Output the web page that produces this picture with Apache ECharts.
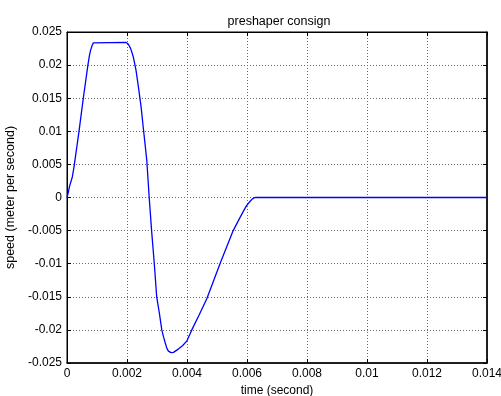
<!DOCTYPE html>
<html><head><meta charset="utf-8">
<script src="https://cdn.jsdelivr.net/npm/echarts@6/dist/echarts.min.js"></script>
<style>html,body{margin:0;padding:0;background:#fff}#c{width:501px;height:396px}</style>
</head><body><div id="c"></div>
<script>
const titleText = 'preshaper consign';
const xName = 'time (second)';
const yName = 'speed (meter per second)';
const times = [0, 0.00004, 0.00008, 0.000177, 0.000233, 0.0004, 0.000544, 0.0007, 0.00075, 0.00079, 0.00084, 0.00088, 0.00091,
  0.00196, 0.00200, 0.00204, 0.00208, 0.00212, 0.00221, 0.0023, 0.00238, 0.00247, 0.00254, 0.00266, 0.00274,
  0.00282, 0.00291, 0.00299, 0.00308, 0.00316, 0.00322, 0.00327, 0.00333, 0.00338, 0.00343, 0.00347, 0.00355, 0.00371, 0.00385, 0.00399, 0.00416,
  0.00440, 0.00466, 0.0051, 0.00554, 0.00577, 0.00590, 0.00599, 0.0061, 0.00618, 0.00627, 0.014];
const speeds = [0, 0.0007, 0.0016, 0.0031, 0.0046, 0.01, 0.015, 0.0201, 0.0215, 0.0223, 0.0230, 0.02335, 0.02344,
  0.02344, 0.02338, 0.02318, 0.0229, 0.02253, 0.02126, 0.01924, 0.01671, 0.01368, 0.01065, 0.0056, 0,
  -0.005, -0.01, -0.015, -0.0175, -0.02, -0.0211, -0.0219, -0.0228, -0.0232, -0.02340, -0.02344, -0.0234, -0.0229, -0.0224, -0.0217, -0.02,
  -0.0178, -0.0153, -0.01, -0.005, -0.003, -0.0019, -0.0012, -0.0006, -0.0002, 0, 0];
const xTicks = ['0','0.002','0.004','0.006','0.008','0.01','0.012','0.014'];
const yTicks = ['-0.025','-0.02','-0.015','-0.01','-0.005','0','0.005','0.01','0.015','0.02','0.025'];

const font = 'Liberation Sans, Arial, sans-serif';
const data = times.map((t, i) => [t, speeds[i]]);
const chart = echarts.init(document.getElementById('c'), null, {renderer: 'canvas'});
const grid = {left: 67, top: 32, width: 420, height: 331, show: true, borderColor: '#000', borderWidth: 1,
  backgroundColor: '#fff', containLabel: false, outerBoundsMode: 'none'};
const split = {show: true, lineStyle: {color: '#666', type: [1, 2], width: 1}};
const tick = {show: true, inside: true, length: 4, lineStyle: {color: '#000'}};
const fmtX = v => xTicks[Math.round(v / 0.002)];
const fmtY = v => yTicks[Math.round((v + 0.025) / 0.005)];
chart.setOption({
  animation: false,
  title: {text: titleText, left: 274, top: 10, textAlign: 'center',
    textStyle: {fontFamily: font, fontSize: 12.5, fontWeight: 'normal', color: '#000'}},
  grid: grid,
  xAxis: [{
    type: 'value', min: 0, max: 0.014, interval: 0.002, position: 'bottom',
    name: xName, nameLocation: 'middle', nameGap: 20,
    nameTextStyle: {fontFamily: font, fontSize: 12, color: '#000'},
    axisLine: {show: true, onZero: false, lineStyle: {color: '#000', width: 1.5}},
    axisTick: tick, splitLine: split,
    axisLabel: {fontFamily: font, fontSize: 12, color: '#000', margin: 5, formatter: fmtX}
  }, {
    type: 'value', min: 0, max: 0.014, interval: 0.002, position: 'top',
    axisLine: {show: true, onZero: false, lineStyle: {color: '#000'}},
    axisTick: tick, splitLine: {show: false}, axisLabel: {show: false}
  }],
  yAxis: [{
    type: 'value', min: -0.025, max: 0.025, interval: 0.005, position: 'left',
    name: yName, nameLocation: 'middle', nameGap: 47,
    nameTextStyle: {fontFamily: font, fontSize: 12.5, color: '#000'},
    axisLine: {show: true, onZero: false, lineStyle: {color: '#000'}},
    axisTick: tick, splitLine: split,
    axisLabel: {fontFamily: font, fontSize: 12, color: '#000', margin: 5, formatter: fmtY}
  }, {
    type: 'value', min: -0.025, max: 0.025, interval: 0.005, position: 'right',
    axisLine: {show: true, onZero: false, lineStyle: {color: '#000', width: 1.5}},
    axisTick: tick, splitLine: {show: false}, axisLabel: {show: false}
  }],
  series: [{
    type: 'line', data: data, showSymbol: false, symbol: 'none',
    smooth: false, z: 10,
    lineStyle: {color: '#0000ff', width: 1.3}
  }]
});
</script></body></html>
